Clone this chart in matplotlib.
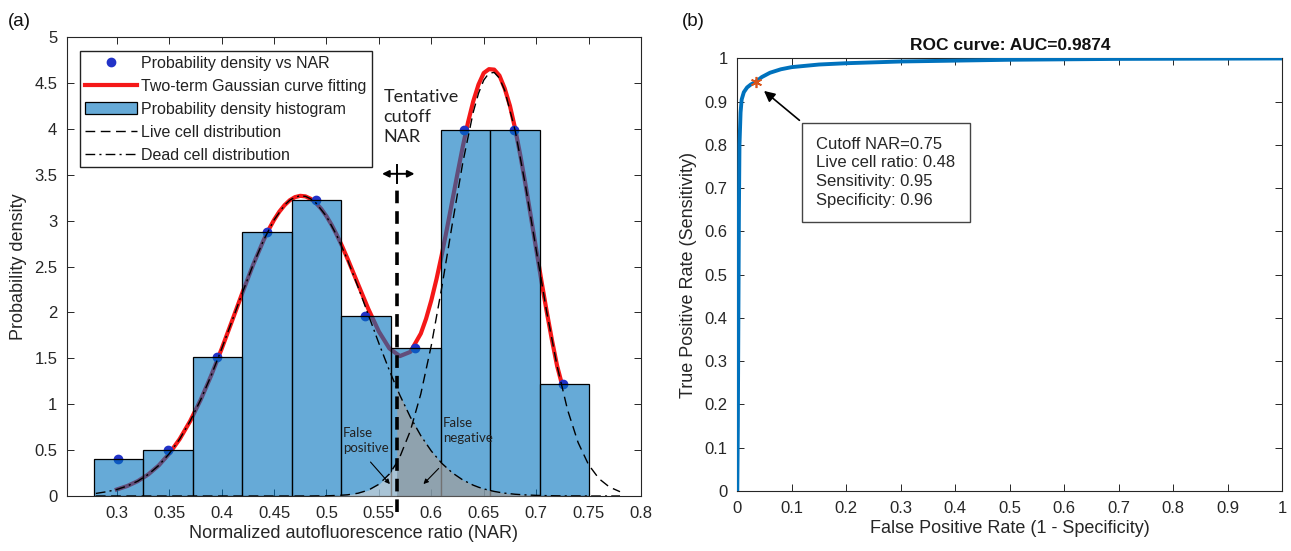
import numpy as np
import matplotlib
matplotlib.use('Agg')
import matplotlib.pyplot as plt
from matplotlib.ticker import FuncFormatter

plt.rcParams['font.family'] = ['Liberation Sans', 'DejaVu Sans']

# ---- panel (a): histogram data ----
bin_edges = [0.278, 0.3253, 0.3725, 0.4198, 0.4670, 0.5143, 0.5615, 0.6088, 0.6560, 0.7033, 0.7506]
hist_density = [0.40, 0.50, 1.51, 2.88, 3.23, 1.96, 1.61, 3.99, 3.99, 1.22]

# points "probability density vs NAR" (bin centres)
dot_nar = [0.3015, 0.349, 0.396, 0.443, 0.490, 0.537, 0.584, 0.631, 0.679, 0.726]
dot_density = [0.40, 0.50, 1.51, 2.88, 3.23, 1.96, 1.61, 3.99, 3.99, 1.22]

# component curves
nar_grid = [0.28, 0.29, 0.30, 0.31, 0.32, 0.33, 0.34, 0.35, 0.36, 0.37, 0.38, 0.39,
            0.40, 0.41, 0.42, 0.43, 0.44, 0.45, 0.46, 0.465, 0.47, 0.475, 0.48, 0.485,
            0.49, 0.50, 0.51, 0.52, 0.53, 0.54, 0.55, 0.56, 0.567, 0.57, 0.58, 0.59,
            0.60, 0.61, 0.62, 0.63, 0.64, 0.645, 0.65, 0.655, 0.66, 0.665, 0.67, 0.68,
            0.69, 0.70, 0.71, 0.72, 0.73, 0.74, 0.75, 0.76, 0.77, 0.78]
dead_cell = [0.028, 0.046, 0.071, 0.109, 0.162, 0.235, 0.333, 0.461, 0.621, 0.817, 1.048, 1.312,
             1.603, 1.910, 2.220, 2.518, 2.786, 3.008, 3.168, 3.222, 3.256, 3.270, 3.264, 3.237,
             3.192, 3.046, 2.835, 2.575, 2.281, 1.972, 1.663, 1.368, 1.177, 1.098, 0.860, 0.657,
             0.490, 0.356, 0.253, 0.175, 0.118, 0.096, 0.078, 0.063, 0.050, 0.040, 0.031, 0.019,
             0.012, 0.007, 0.004, 0.002, 0.001, 0.001, 0.0, 0.0, 0.0, 0.0]
live_cell = [0.0, 0.0, 0.0, 0.0, 0.0, 0.0, 0.0, 0.0, 0.0, 0.0, 0.0, 0.0,
             0.0, 0.0, 0.0, 0.0, 0.0, 0.0, 0.0, 0.0, 0.0, 0.0, 0.0, 0.0,
             0.001, 0.002, 0.006, 0.013, 0.030, 0.064, 0.128, 0.240, 0.361, 0.426, 0.710, 1.113,
             1.641, 2.273, 2.962, 3.630, 4.182, 4.386, 4.530, 4.607, 4.614, 4.551, 4.419, 3.981,
             3.371, 2.685, 2.010, 1.415, 0.937, 0.583, 0.341, 0.188, 0.097, 0.047]

# two-term Gaussian fit (red)
fit_nar = [0.30, 0.31, 0.32, 0.33, 0.34, 0.35, 0.36, 0.37, 0.38, 0.39, 0.40, 0.41,
           0.42, 0.43, 0.44, 0.445, 0.45, 0.455, 0.46, 0.465, 0.47, 0.475, 0.48, 0.485,
           0.49, 0.495, 0.50, 0.505, 0.51, 0.515, 0.52, 0.53, 0.54, 0.55, 0.56, 0.57,
           0.58, 0.59, 0.595, 0.60, 0.605, 0.61, 0.615, 0.62, 0.625, 0.63, 0.635, 0.64,
           0.645, 0.65, 0.655, 0.66, 0.665, 0.67, 0.675, 0.68, 0.685, 0.69, 0.695, 0.70,
           0.705, 0.71, 0.715, 0.72, 0.725]
fit_density = [0.071, 0.109, 0.162, 0.235, 0.333, 0.461, 0.621, 0.817, 1.048, 1.312, 1.603, 1.910,
               2.220, 2.518, 2.786, 2.904, 3.008, 3.097, 3.168, 3.222, 3.256, 3.270, 3.264, 3.237,
               3.192, 3.128, 3.048, 2.952, 2.841, 2.719, 2.588, 2.311, 2.036, 1.791, 1.608, 1.524,
               1.570, 1.770, 1.931, 2.131, 2.365, 2.629, 2.916, 3.215, 3.515, 3.805, 4.070, 4.300,
               4.482, 4.608, 4.650, 4.645, 4.580, 4.440, 4.251, 4.000, 3.706, 3.383, 3.041, 2.692,
               2.346, 2.014, 1.703, 1.417, 1.200]

cutoff = 0.567

# ---- panel (b): ROC curve ----
fpr = [0.0, 0.001, 0.002, 0.003, 0.004, 0.006, 0.008, 0.012, 0.018, 0.025, 0.034, 0.045,
       0.060, 0.080, 0.100, 0.150, 0.200, 0.300, 0.400, 0.500, 0.700, 0.850, 1.0]
tpr = [0.0, 0.15, 0.40, 0.65, 0.80, 0.875, 0.905, 0.922, 0.933, 0.940, 0.946, 0.957,
       0.967, 0.975, 0.980, 0.986, 0.989, 0.993, 0.995, 0.997, 0.999, 0.9995, 1.0]
best_fpr, best_tpr = 0.034, 0.946

axis_color = '#262626'
calibri_like = ['Lato', 'DejaVu Sans']

fig = plt.figure(figsize=(12.91, 5.51), dpi=100)
ax = fig.add_axes([0.0519, 0.0998, 0.4446, 0.833])
ax2 = fig.add_axes([0.5711, 0.1089, 0.4222, 0.785])

nar_grid = np.array(nar_grid)
dead_cell = np.array(dead_cell)
live_cell = np.array(live_cell)

# red fit goes under the semi-transparent bars, like the MATLAB figure
ax.plot(fit_nar, fit_density, color='#f51818', lw=3.0, zorder=1,
        solid_joinstyle='round', label='Two-term Gaussian curve fitting')
ax.plot(dot_nar, dot_density, 'o', color='#2233c8', ms=6, zorder=1.5,
        label='Probability density vs NAR')
widths = np.diff(bin_edges)
ax.bar(bin_edges[:-1], hist_density, width=widths, align='edge',
       facecolor=(0.0, 0.447, 0.741, 0.6), edgecolor='black', lw=0.9, zorder=2,
       label='Probability density histogram')

# shaded misclassification areas
fp = nar_grid <= cutoff
fn = nar_grid >= cutoff
ax.fill_between(nar_grid[fp], 0, live_cell[fp], color='#d6d6d6', alpha=0.6, lw=0, zorder=3)
ax.fill_between(nar_grid[fn], 0, dead_cell[fn], color='#9f9f9f', alpha=0.72, lw=0, zorder=3)

ax.plot(nar_grid, live_cell, color='black', ls=(0, (7, 4)), lw=1.0, zorder=4,
        label='Live cell distribution')
ax.plot(nar_grid, dead_cell, color='black', ls=(0, (7, 3, 1.5, 3)), lw=1.0, zorder=4,
        label='Dead cell distribution')

# cutoff marker
ax.plot([cutoff, cutoff], [-0.17, 3.36], color='black', lw=2.6, ls=(0, (3.5, 2.2)),
        clip_on=False, zorder=6)
ax.annotate('', xy=(0.553, 3.51), xytext=(0.584, 3.51),
            arrowprops=dict(arrowstyle='<|-|>', color='black', lw=1.4,
                            mutation_scale=10, shrinkA=0, shrinkB=0), zorder=6)
ax.plot([cutoff, cutoff], [3.41, 3.61], color='black', lw=1.4, zorder=6)
ax.text(0.5545, 4.43, 'Tentative\ncutoff\nNAR', family=calibri_like,
        fontsize=13, va='top', ha='left', linespacing=1.3, color='#222222')

ax.text(0.516, 0.75, 'False\npositive', family=calibri_like, fontsize=9.5,
        va='top', ha='left', linespacing=1.25, color='#222222', zorder=7)
ax.text(0.611, 0.86, 'False\nnegative', family=calibri_like, fontsize=9.5,
        va='top', ha='left', linespacing=1.25, color='#222222', zorder=7)
ax.annotate('', xy=(0.5605, 0.13), xytext=(0.542, 0.37),
            arrowprops=dict(arrowstyle='-|>', color='black', lw=0.8,
                            mutation_scale=7, shrinkA=0, shrinkB=0), zorder=7)
ax.annotate('', xy=(0.5925, 0.13), xytext=(0.607, 0.30),
            arrowprops=dict(arrowstyle='-|>', color='black', lw=0.8,
                            mutation_scale=7, shrinkA=0, shrinkB=0), zorder=7)

ax.set_xlim(0.2525, 0.8)
ax.set_ylim(0, 5)
ax.set_xticks(np.arange(0.3, 0.801, 0.05))
ax.set_yticks(np.arange(0, 5.01, 0.5))
fmt = FuncFormatter(lambda v, p: ('%.2f' % v).rstrip('0').rstrip('.'))
ax.xaxis.set_major_formatter(fmt)
ax.yaxis.set_major_formatter(fmt)
ax.set_xlabel('Normalized autofluorescence ratio (NAR)', fontsize=13, color=axis_color, labelpad=3)
ax.set_ylabel('Probability density', fontsize=13, color=axis_color, labelpad=5)

handles, labels = ax.get_legend_handles_labels()
order = ['Probability density vs NAR', 'Two-term Gaussian curve fitting',
         'Probability density histogram', 'Live cell distribution', 'Dead cell distribution']
hmap = dict(zip(labels, handles))
leg = ax.legend([hmap[k] for k in order], order, loc='upper left',
                bbox_to_anchor=(0.0226, 0.970), handlelength=3.25, fontsize=11.5,
                handletextpad=0.3, labelspacing=0.5, borderpad=0.3, borderaxespad=0,
                fancybox=False, framealpha=1, edgecolor='#222222')
leg.get_frame().set_linewidth(1.0)
for t in leg.get_texts():
    t.set_color('#222222')

# ROC
ax2.plot(fpr, tpr, color='#0072bd', lw=2.8, solid_capstyle='butt',
         solid_joinstyle='round', zorder=3)
ax2.plot([best_fpr], [best_tpr], marker=(6, 2, 0), color='#d95319', ms=8, mew=1.2,
         ls='none', zorder=4)
ax2.annotate('', xy=(0.049, 0.925), xytext=(0.114, 0.857),
             arrowprops=dict(arrowstyle='-|>', color='black', lw=1.2,
                             mutation_scale=16, shrinkA=0, shrinkB=0), zorder=5)
ax2.text(0.145, 0.737, 'Cutoff NAR=0.75\nLive cell ratio: 0.48\nSensitivity: 0.95\nSpecificity: 0.96',
         fontsize=12, va='center', ha='left', linespacing=1.3, color='#262626',
         bbox=dict(boxstyle='square,pad=0.85', facecolor='white', edgecolor='#444444', lw=1.0))
ax2.set_xlim(0, 1)
ax2.set_ylim(0, 1)
ax2.set_xticks(np.arange(0, 1.01, 0.1))
ax2.set_yticks(np.arange(0, 1.01, 0.1))
ax2.xaxis.set_major_formatter(fmt)
ax2.yaxis.set_major_formatter(fmt)
ax2.set_xlabel('False Positive Rate (1 - Specificity)', fontsize=13, color=axis_color, labelpad=3)
ax2.set_ylabel('True Positive Rate (Sensitivity)', fontsize=13, color=axis_color, labelpad=5)
ax2.set_title('ROC curve: AUC=0.9874', fontsize=12.5, fontweight='bold', color='#111111', pad=6)

for a in (ax, ax2):
    a.tick_params(direction='in', top=True, right=True, length=5, width=0.7,
                  labelsize=12, colors=axis_color, pad=7)
    for s in a.spines.values():
        s.set_color(axis_color)
        s.set_linewidth(0.8)

fig.text(0.006, 0.952, '(a)', fontsize=13.5, color='#111111')
fig.text(0.528, 0.952, '(b)', fontsize=13.5, color='#111111')

fig.savefig('out.png', dpi=100)
